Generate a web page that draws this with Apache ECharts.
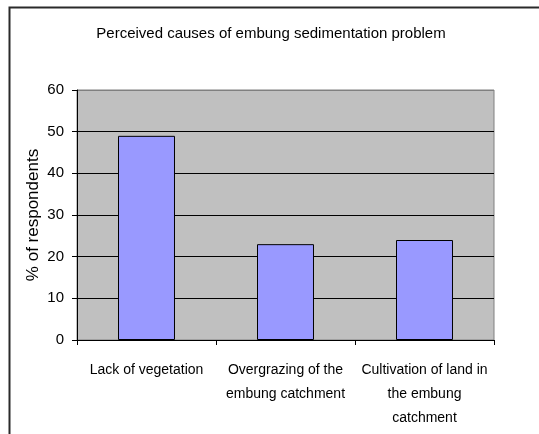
<!DOCTYPE html>
<html>
<head>
<meta charset="utf-8">
<script src="https://cdn.jsdelivr.net/npm/echarts@6/dist/echarts.min.js"></script>
<style>html,body{margin:0;padding:0;background:#fff}#c{width:539px;height:434px}</style>
</head>
<body>
<div id="c"></div>
<script>
const titleText = 'Perceived causes of embung sedimentation problem';
const categories = ['Lack of vegetation', 'Overgrazing of the\nembung catchment', 'Cultivation of land in\nthe embung\ncatchment'];
const values = [49, 23, 24];
const yTicks = [0, 10, 20, 30, 40, 50, 60];
const yName = '% of respondents';

const FONT = 'Liberation Sans';
const chart = echarts.init(document.getElementById('c'), null, {renderer: 'canvas'});
chart.setOption({
  animation: false,
  backgroundColor: '#ffffff',
  title: {
    text: titleText,
    left: 266, textAlign: 'center', top: 21,
    textStyle: {fontFamily: FONT, fontSize: 15, fontWeight: 'normal', color: '#000'}
  },
  graphic: [{
    type: 'rect', left: 7, top: 5, z: 100,
    shape: {x: 0, y: 0, width: 600, height: 500},
    style: {fill: 'none', stroke: '#2a2a2a', lineWidth: 2}
  }],
  grid: {
    left: 77, right: 45, top: 90, bottom: 94,
    show: true, backgroundColor: '#C0C0C0', borderColor: '#808080', borderWidth: 1
  },
  xAxis: {
    type: 'category',
    data: categories,
    axisLine: {lineStyle: {color: '#000', width: 1}},
    axisTick: {show: true, length: 5, lineStyle: {color: '#000'}},
    axisLabel: {interval: 0, margin: 18, fontFamily: FONT, fontSize: 14, lineHeight: 24, color: '#000', align: 'center'}
  },
  yAxis: {
    type: 'value',
    min: yTicks[0], max: yTicks[yTicks.length - 1], interval: 10,
    name: yName, nameLocation: 'middle', nameGap: 35, nameRotate: 90, nameMoveOverlap: false,
    nameTextStyle: {fontFamily: FONT, fontSize: 17, color: '#000'},
    axisLine: {show: true, lineStyle: {color: '#000', width: 1}},
    axisTick: {show: true, length: 5, lineStyle: {color: '#000'}},
    axisLabel: {margin: 13, fontFamily: FONT, fontSize: 15, color: '#000'},
    splitLine: {show: true, lineStyle: {color: ['#000', '#000', '#000', '#000', '#000', '#000', '#808080'], width: 1}}
  },
  series: [{
    type: 'bar',
    data: values,
    barWidth: '41%',
    itemStyle: {color: '#9999FF', borderColor: '#000', borderWidth: 1}
  }]
});
</script>
</body>
</html>
